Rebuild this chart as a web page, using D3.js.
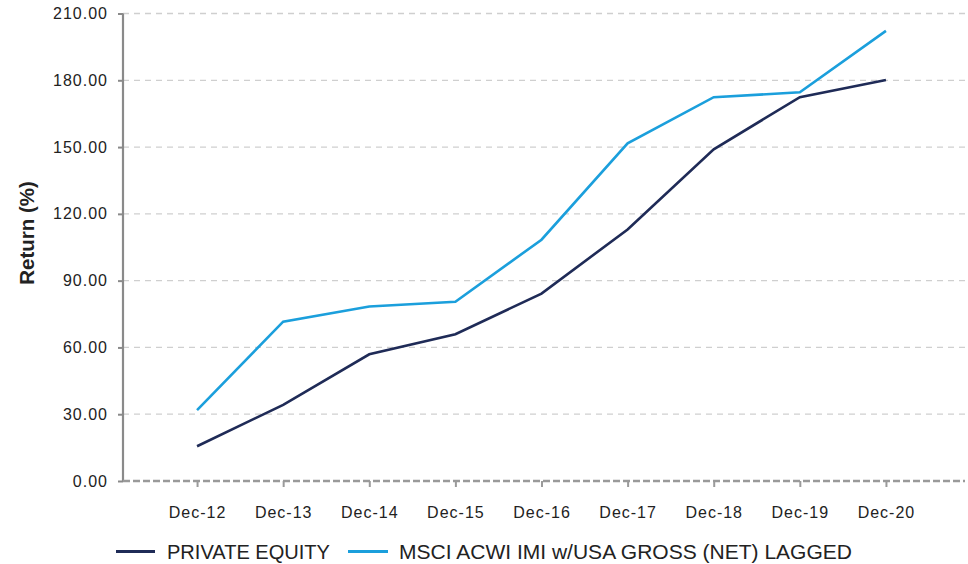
<!DOCTYPE html>
<html>
<head>
<meta charset="utf-8">
<script src="https://cdn.jsdelivr.net/npm/d3@7"></script>
<style>
  html, body { margin: 0; padding: 0; background: #fff; }
  svg { display: block; }
</style>
</head>
<body>
<svg id="chart" width="968" height="564"></svg>
<script>
const categories = ["Dec-12","Dec-13","Dec-14","Dec-15","Dec-16","Dec-17","Dec-18","Dec-19","Dec-20"];
const privateEquity = [15.6, 34.2, 56.9, 65.9, 84.2, 113.0, 149.0, 172.4, 180.1];
const msciAcwi = [31.8, 71.6, 78.4, 80.5, 108.4, 151.7, 172.4, 174.6, 202.2];
const yTicks = [0, 30, 60, 90, 120, 150, 180, 210];
const seriesNames = ["PRIVATE EQUITY", "MSCI ACWI IMI w/USA GROSS (NET) LAGGED"];
const seriesColors = ["#1f2b57", "#1b9fdc"];

(function () {
const svg = d3.select("#chart");
const pLeft = 123, pRight = 965, pTop = 13.5, pBottom = 481;

const x = d3.scalePoint().domain(categories).range([pLeft, 960]).padding(0.86);
const y = d3.scaleLinear().domain([0, 210]).range([pBottom, pTop]);

// gridlines
svg.append("g").selectAll("line").data(yTicks.filter(d => d > 0)).join("line")
  .attr("x1", pLeft).attr("x2", pRight)
  .attr("y1", d => y(d)).attr("y2", d => y(d))
  .attr("stroke", "#cfcfcf").attr("stroke-width", 1.3).attr("stroke-dasharray", "6,5");

// y axis
const yAxis = svg.append("g").attr("transform", `translate(${pLeft},0)`)
  .call(d3.axisLeft(y).tickValues(yTicks).tickFormat(d3.format(".2f")).tickSize(5).tickPadding(10));
yAxis.select(".domain").attr("stroke", "#8a8a8a").attr("stroke-width", 2.2).attr("d", `M0,${pTop}V${pBottom}`);
yAxis.selectAll(".tick line").attr("stroke", "#8a8a8a").attr("stroke-width", 2);
yAxis.selectAll(".tick text").attr("fill", "#222").attr("font-size", 16)
  .attr("font-family", "Liberation Sans, Arial, sans-serif").style("letter-spacing", "1px");

// x axis
const xAxis = svg.append("g").attr("transform", `translate(0,${pBottom})`)
  .call(d3.axisBottom(x).tickSize(6).tickPadding(20));
xAxis.select(".domain").attr("d", `M${pLeft},0H${pRight}`).attr("stroke", "#9a9a9a")
  .attr("stroke-width", 2.6).attr("stroke-dasharray", "7,3");
xAxis.selectAll(".tick line").attr("stroke", "#9a9a9a").attr("stroke-width", 2);
xAxis.selectAll(".tick text").attr("fill", "#222").attr("font-size", 16)
  .attr("font-family", "Liberation Sans, Arial, sans-serif").style("letter-spacing", "1px");

// y title
svg.append("text")
  .attr("transform", "translate(34,233) rotate(-90)")
  .attr("text-anchor", "middle")
  .attr("font-family", "Liberation Sans, Arial, sans-serif")
  .attr("font-weight", "bold").attr("font-size", 20.5).attr("fill", "#222")
  .text("Return (%)");

// lines
const line = d3.line().x((d, i) => x(categories[i])).y(d => y(d));
[privateEquity, msciAcwi].forEach((s, i) => {
  svg.append("path").datum(s).attr("d", line)
    .attr("fill", "none").attr("stroke", seriesColors[i]).attr("stroke-width", 2.6)
    .attr("stroke-linejoin", "miter");
});

// legend
const legendItems = [
  {x1: 116, x2: 155, tx: 167, tlen: 163},
  {x1: 348, x2: 388, tx: 399, tlen: 453}
];
legendItems.forEach((l, i) => {
  svg.append("line").attr("x1", l.x1).attr("x2", l.x2).attr("y1", 551.5).attr("y2", 551.5)
    .attr("stroke", seriesColors[i]).attr("stroke-width", 3);
  svg.append("text").attr("x", l.tx).attr("y", 558.5)
    .attr("font-family", "Liberation Sans, Arial, sans-serif").attr("font-size", 19.5)
    .attr("fill", "#222").attr("textLength", l.tlen).attr("lengthAdjust", "spacingAndGlyphs")
    .text(seriesNames[i]);
});
})();
</script>
</body>
</html>
